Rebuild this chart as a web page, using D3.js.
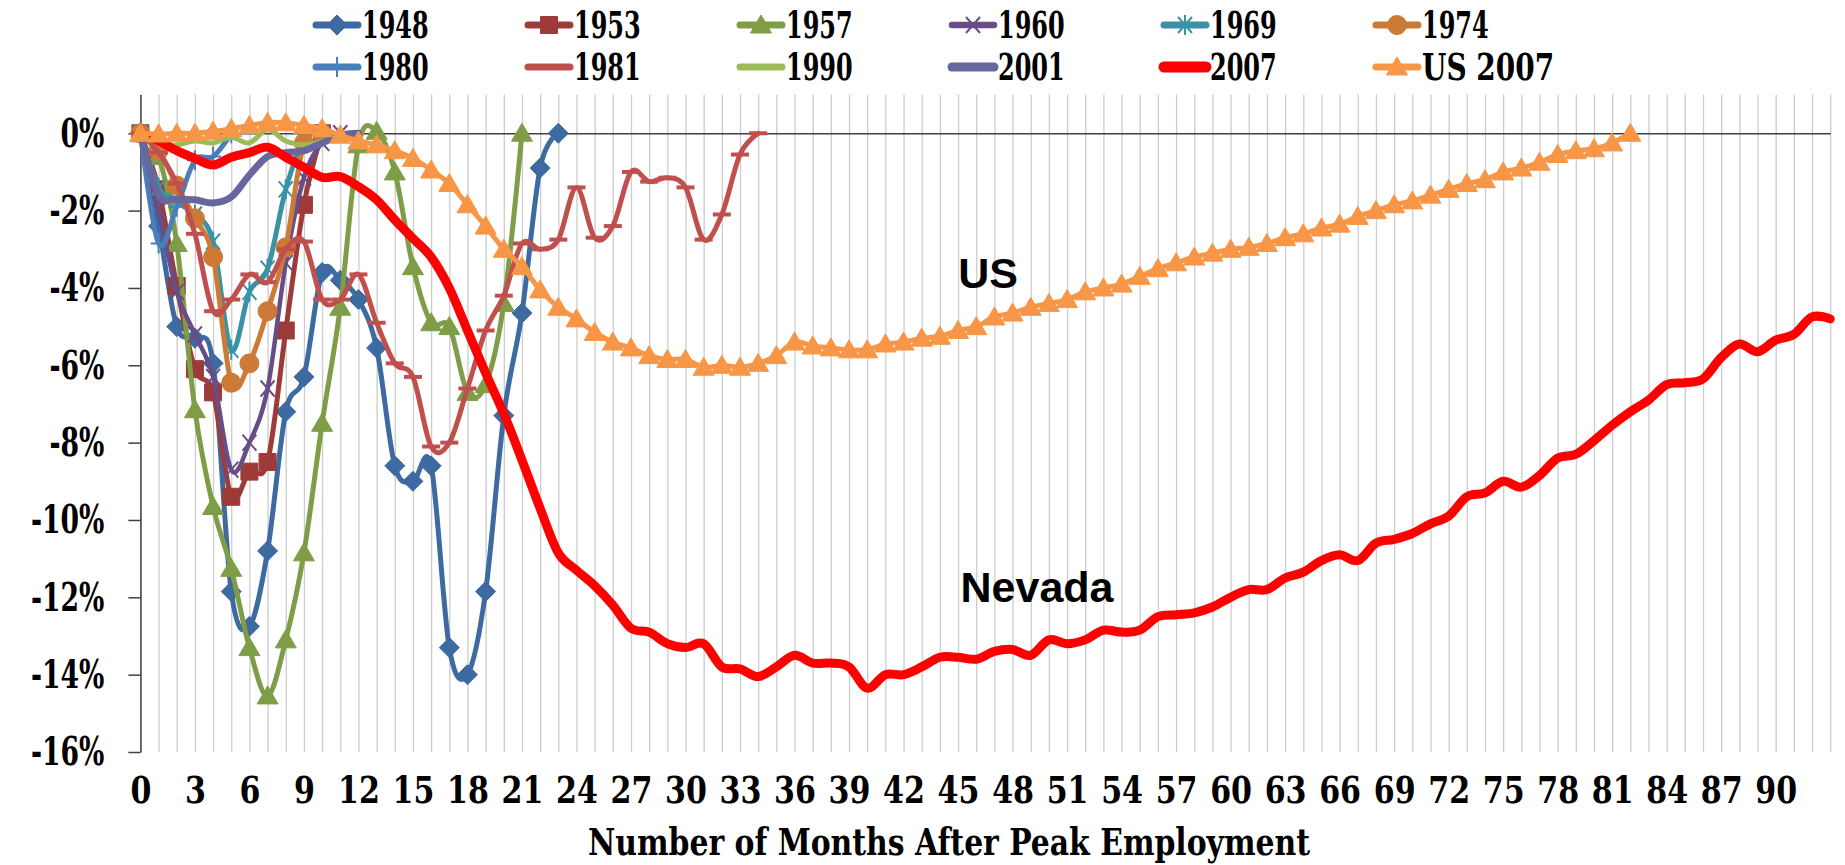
<!DOCTYPE html>
<html>
<head>
<meta charset="utf-8">
<script src="https://cdn.jsdelivr.net/npm/d3@7"></script>
<style>
  body { margin: 0; background: #fff; }
  svg { display: block; }
</style>
</head>
<body>
<svg id="chart" width="1845" height="865"></svg>
<script>
// ---- data (percent change from peak employment, by month after peak) ----
var months = d3.range(0, 94);
var xTickMonths = d3.range(0, 91, 3);
var yTickValues = [0, -2, -4, -6, -8, -10, -12, -14, -16];
var legendNames = ['1948', '1953', '1957', '1960', '1969', '1974',
                   '1980', '1981', '1990', '2001', '2007', 'US 2007'];

var s1948 = [0, -2.4, -5.0, -5.3, -5.95, -11.85, -12.75, -10.8, -7.2, -6.3, -3.6, -3.8,
             -4.3, -5.55, -8.6, -9.0, -8.6, -13.3, -14.0, -11.85, -7.3, -4.65, -0.9, 0];
var s1953 = [0, -1.45, -3.95, -6.1, -6.7, -9.4, -8.75, -8.5, -5.1, -1.85, 0];
var s1957 = [0, -0.6, -2.85, -7.15, -9.65, -11.25, -13.3, -14.55, -13.1, -10.85, -7.5,
             -4.5, -0.3, 0.05, -1.0, -3.45, -4.9, -5.0, -6.7, -6.5, -4.4, 0];
var s1960 = [0, -2.0, -4.1, -5.2, -6.3, -8.7, -8.0, -6.6, -3.35, -1.15, -0.25, 0];
var s1969 = [0, -1.4, -1.75, -2.1, -2.8, -5.6, -4.1, -3.5, -1.45, -0.2, 0];
var s1974 = [0, -0.45, -1.35, -2.2, -3.2, -6.45, -5.95, -4.6, -2.95, -0.25, 0];
var s1980 = [0, -2.85, -1.9, -0.7, -0.6, 0];
var s1981 = [0, -0.5, -1.3, -2.6, -4.6, -4.3, -3.65, -3.85, -3.0, -2.8, -4.3, -4.3,
             -3.65, -4.9, -5.95, -6.3, -8.1, -8.0, -6.6, -5.1, -4.2, -2.85, -3.0, -2.75,
             -1.4, -2.7, -2.4, -1.0, -1.25, -1.15, -1.4, -2.75, -2.1, -0.55, 0];
var s1990 = [0, -0.25, -0.3, -0.2, -0.25, -0.1, -0.25, 0.1, -0.2, -0.3, -0.2, 0];
var s2001 = [0, -1.6, -1.7, -1.72, -1.8, -1.65, -1.08, -0.6, -0.5, -0.45, -0.25, -0.05, 0];
var s2007 = [0, -0.2, -0.45, -0.65, -0.82, -0.62, -0.5, -0.36, -0.62, -0.88, -1.14, -1.12,
             -1.38, -1.72, -2.24, -2.72, -3.2, -4.0, -5.1, -6.2, -7.25, -8.45, -9.7, -10.85,
             -11.3, -11.7, -12.2, -12.8, -12.9, -13.2, -13.3, -13.2, -13.8, -13.85, -14.05,
             -13.8, -13.5, -13.7, -13.7, -13.8, -14.35, -14.0, -14.0, -13.8, -13.55, -13.55,
             -13.6, -13.4, -13.35, -13.5, -13.1, -13.2, -13.1, -12.85, -12.9, -12.85, -12.5,
             -12.45, -12.4, -12.25, -12.0, -11.8, -11.8, -11.5, -11.35, -11.05, -10.9, -11.05,
             -10.6, -10.5, -10.35, -10.1, -9.9, -9.4, -9.3, -9.0, -9.15, -8.85, -8.4, -8.3,
             -7.95, -7.55, -7.2, -6.9, -6.5, -6.45, -6.35, -5.8, -5.45, -5.65, -5.35, -5.2,
             -4.75, -4.8];
var sUS2007 = [0, -0.02, 0, 0, 0.05, 0.12, 0.2, 0.28, 0.27, 0.2, 0.12, -0.05, -0.2, -0.3,
               -0.45, -0.65, -0.95, -1.3, -1.85, -2.4, -3.0, -3.45, -4.05, -4.5, -4.8, -5.15,
               -5.4, -5.55, -5.75, -5.85, -5.85, -6.05, -6.0, -6.05, -5.95, -5.75, -5.4, -5.5,
               -5.55, -5.6, -5.6, -5.45, -5.4, -5.3, -5.25, -5.1, -5.0, -4.75, -4.65, -4.5,
               -4.4, -4.3, -4.1, -4.0, -3.9, -3.7, -3.5, -3.35, -3.2, -3.1, -3.0, -2.95, -2.85,
               -2.7, -2.6, -2.45, -2.35, -2.15, -2.0, -1.85, -1.75, -1.6, -1.45, -1.3, -1.2,
               -1.0, -0.9, -0.75, -0.55, -0.45, -0.4, -0.25, 0];

// ---- styles ----
var MARKERS = {
  diamond:  {d: 'M0,-10L10,0L0,10L-10,0Z', fill: true},
  square:   {d: 'M-8.5,-8.5H8.5V8.5H-8.5Z', fill: true},
  triangle: {d: 'M0,-10L10.5,8L-10.5,8Z', fill: true},
  cross:    {d: 'M-7,-8L7,8M-7,8L7,-8', fill: false, sw: 2},
  star:     {d: 'M-7,-8L7,8M-7,8L7,-8M0,-10V10', fill: false, sw: 2},
  circle:   {d: 'M9.5,0A9.5,9.5 0 1,1 -9.5,0A9.5,9.5 0 1,1 9.5,0Z', fill: true},
  plus:     {d: 'M-8,0H8M0,-10V10', fill: false, sw: 2},
  dash:     {d: 'M-9,0H9', fill: false, sw: 4}
};

var series = [
  {name: legendNames[0],  values: s1948,   color: '#3D6AA0', width: 5,   marker: 'diamond'},
  {name: legendNames[1],  values: s1953,   color: '#9E3B39', width: 5,   marker: 'square'},
  {name: legendNames[2],  values: s1957,   color: '#7F9D47', width: 5,   marker: 'triangle'},
  {name: legendNames[3],  values: s1960,   color: '#684D88', width: 4.5, marker: 'cross'},
  {name: legendNames[4],  values: s1969,   color: '#3A92A7', width: 5,   marker: 'star'},
  {name: legendNames[5],  values: s1974,   color: '#CC7A36', width: 5,   marker: 'circle'},
  {name: legendNames[6],  values: s1980,   color: '#4A7EBB', width: 5,   marker: 'plus'},
  {name: legendNames[7],  values: s1981,   color: '#C0504D', width: 5,   marker: 'dash'},
  {name: legendNames[8],  values: s1990,   color: '#9BBB59', width: 5,   marker: null},
  {name: legendNames[9],  values: s2001,   color: '#67679E', width: 7,   marker: null},
  {name: legendNames[10], values: s2007,   color: '#FF0000', width: 9,   marker: null},
  {name: legendNames[11], values: sUS2007, color: '#F79646', width: 5,   marker: 'triangle'}
];

var SERIF = '"DejaVu Serif Condensed", "Liberation Serif", serif';

// squeeze text horizontally (the original type is tall and narrow)
function squeeze(sel, k) {
  sel.each(function() {
    var len = this.getComputedTextLength();
    d3.select(this).attr('textLength', len * k).attr('lengthAdjust', 'spacingAndGlyphs');
  });
}

var svg = d3.select('#chart');
var plot = {left: 140.4, right: 1830.2, top: 94.6, bottom: 752};

var x = d3.scaleLinear().domain([0, 93]).range([plot.left, plot.right]);
var y = d3.scaleLinear().domain([1, -16]).range([plot.top, plot.bottom]);

// vertical gridlines, one per month
svg.append('g')
  .attr('transform', 'translate(0,' + plot.bottom + ')')
  .call(d3.axisBottom(x).tickValues(months).tickSize(-(plot.bottom - plot.top)).tickFormat(''))
  .call(function(g) { g.select('.domain').remove(); })
  .selectAll('line').attr('stroke', '#cccccc').attr('stroke-width', 1.3);

// horizontal axis line at 0%
svg.append('g')
  .attr('transform', 'translate(0,' + y(0) + ')')
  .call(d3.axisBottom(x).tickValues([]).tickSizeOuter(0))
  .select('.domain').attr('stroke', '#404040').attr('stroke-width', 1.5);

// month labels along the bottom
var xLab = svg.append('g')
  .attr('transform', 'translate(0,' + plot.bottom + ')')
  .call(d3.axisBottom(x).tickValues(xTickMonths).tickSize(0).tickFormat(d3.format('d')));
xLab.select('.domain').remove();
xLab.selectAll('text')
  .attr('y', 37).attr('dy', '0.36em')
  .attr('font-family', SERIF).attr('font-weight', 'bold').attr('font-size', 38)
  .attr('fill', '#000')
  .call(squeeze, 0.88);

// value axis
var yAx = svg.append('g')
  .attr('transform', 'translate(' + plot.left + ',0)')
  .call(d3.axisLeft(y).tickValues(yTickValues).tickSize(12).tickSizeOuter(0).tickPadding(24)
        .tickFormat(function(d) { return d + '%'; }));
yAx.select('.domain').attr('stroke', '#404040').attr('stroke-width', 1.5);
yAx.selectAll('line').attr('stroke', '#404040').attr('stroke-width', 1.5);
yAx.selectAll('text')
  .attr('font-family', SERIF).attr('font-weight', 'bold').attr('font-size', 40)
  .attr('fill', '#000')
  .call(squeeze, 0.74);

// series
var line = d3.line()
  .x(function(d, i) { return x(i); })
  .y(function(d) { return y(d); })
  .curve(d3.curveCardinal.tension(0));

function drawMarker(sel, s) {
  var m = MARKERS[s.marker];
  sel.attr('d', m.d)
    .attr('fill', m.fill ? s.color : 'none')
    .attr('stroke', s.color)
    .attr('stroke-width', m.fill ? 1 : m.sw);
}

series.forEach(function(s) {
  var g = svg.append('g');
  g.append('path')
    .attr('d', line(s.values))
    .attr('fill', 'none')
    .attr('stroke', s.color)
    .attr('stroke-width', s.width)
    .attr('stroke-linejoin', 'round')
    .attr('stroke-linecap', 'round');
  if (s.marker) {
    g.selectAll('path.mk')
      .data(s.values)
      .enter().append('path')
      .attr('class', 'mk')
      .attr('transform', function(d, i) { return 'translate(' + x(i) + ',' + y(d) + ')'; })
      .call(drawMarker, s);
  }
});

// legend: 2 rows x 6 columns
var legend = svg.append('g');
series.forEach(function(s, i) {
  var col = i % 6, row = Math.floor(i / 6);
  var tx = 362 + col * 212, ty = row === 0 ? 25 : 67;
  var g = legend.append('g');
  g.append('line')
    .attr('x1', tx - 46).attr('x2', tx - 4).attr('y1', ty).attr('y2', ty)
    .attr('stroke', s.color).attr('stroke-width', s.width === 9 ? 11 : s.width + 2)
    .attr('stroke-linecap', 'round');
  if (s.marker) {
    g.append('path')
      .attr('transform', 'translate(' + (tx - 25) + ',' + ty + ')')
      .call(drawMarker, s);
  }
  g.append('text')
    .attr('x', tx).attr('y', ty).attr('dy', '0.36em')
    .attr('font-family', SERIF).attr('font-weight', 'bold').attr('font-size', 37)
    .text(s.name)
    .call(squeeze, s.name.length > 4 ? 0.84 : 0.72);
});

// annotations
svg.append('text')
  .attr('x', 988).attr('y', 273).attr('dy', '0.36em').attr('text-anchor', 'middle')
  .attr('font-family', '"Liberation Sans", Arial, sans-serif').attr('font-weight', 'bold')
  .attr('font-size', 43).text('US');
svg.append('text')
  .attr('x', 1037).attr('y', 587).attr('dy', '0.36em').attr('text-anchor', 'middle')
  .attr('font-family', '"Liberation Sans", Arial, sans-serif').attr('font-weight', 'bold')
  .attr('font-size', 43).text('Nevada');

// axis title
svg.append('text')
  .attr('x', 949).attr('y', 841).attr('dy', '0.36em').attr('text-anchor', 'middle')
  .attr('font-family', SERIF).attr('font-weight', 'bold').attr('font-size', 38)
  .attr('textLength', 722).attr('lengthAdjust', 'spacingAndGlyphs')
  .text('Number of Months After Peak Employment');
</script>
</body>
</html>
